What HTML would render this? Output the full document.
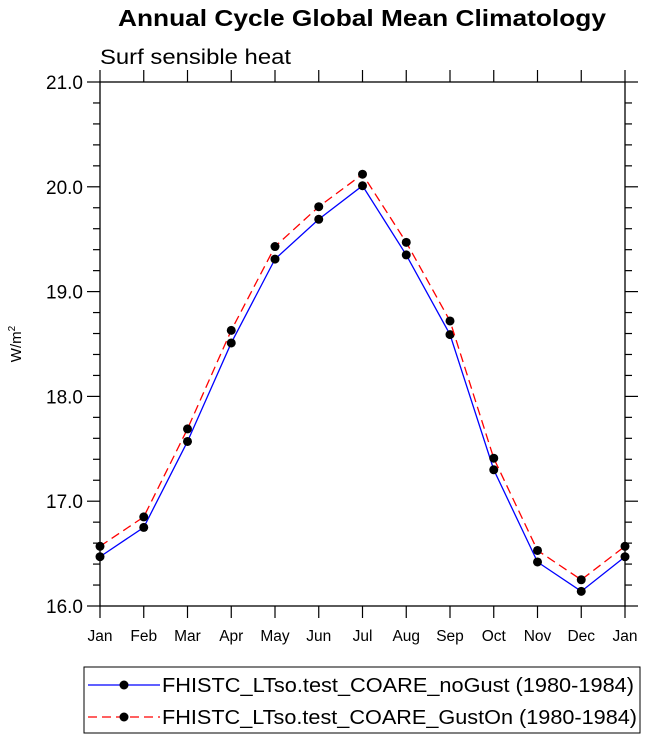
<!DOCTYPE html>
<html><head><meta charset="utf-8"><style>
body{margin:0;background:#fff;font-family:"Liberation Sans",sans-serif}
</style></head><body>
<svg id="c" width="647" height="743" xmlns="http://www.w3.org/2000/svg" font-family="Liberation Sans, sans-serif">
<text x="118" y="26" textLength="488" lengthAdjust="spacingAndGlyphs" font-size="23" font-weight="bold">Annual Cycle Global Mean Climatology</text>
<text x="100" y="64" textLength="191" lengthAdjust="spacingAndGlyphs" font-size="21">Surf sensible heat</text>
<text transform="translate(21,344) rotate(-90)" text-anchor="middle" font-size="15">W/m<tspan dy="-6" font-size="10">2</tspan></text>
<g id="axes"></g><g id="series"></g>
<g>
<rect x="84" y="667" width="556" height="66" fill="#fff" stroke="#000"/>
<g>
<line x1="88" y1="685" x2="160" y2="685" stroke="#0000ff" stroke-width="1.3"/>
<circle cx="124" cy="685" r="4.5" fill="#000"/>
<text x="162" y="692" textLength="472" lengthAdjust="spacingAndGlyphs" font-size="20">FHISTC_LTso.test_COARE_noGust (1980-1984)</text></g>
<g>
<line x1="88" y1="717" x2="160" y2="717" stroke="#ff0000" stroke-width="1.3" stroke-dasharray="9,5"/>
<circle cx="124" cy="717" r="4.5" fill="#000"/>
<text x="162" y="724" textLength="475" lengthAdjust="spacingAndGlyphs" font-size="20">FHISTC_LTso.test_COARE_GustOn (1980-1984)</text></g>
</g>
</svg>
<script>
const months=["Jan","Feb","Mar","Apr","May","Jun","Jul","Aug","Sep","Oct","Nov","Dec","Jan"];
const noGust=[16.47,16.75,17.57,18.51,19.31,19.69,20.01,19.35,18.59,17.30,16.42,16.14,16.47];
const gustOn=[16.57,16.85,17.69,18.63,19.43,19.81,20.12,19.47,18.72,17.41,16.53,16.25,16.57];
const yTicks=[16.0,17.0,18.0,19.0,20.0,21.0];
const NS="http://www.w3.org/2000/svg";
const L=100,R=625,T=82,B=606,ymin=16,ymax=21;
const xs=i=>L+i*(R-L)/12, ys=v=>B-(v-ymin)/(ymax-ymin)*(B-T);
function mk(t,a,p){const e=document.createElementNS(NS,t);for(const k in a)e.setAttribute(k,a[k]);p.appendChild(e);return e;}
const ax=document.getElementById('axes');
const box=mk('rect',{x:L,y:T,width:R-L,height:B-T,fill:'none',stroke:'#000','stroke-width':1.3},ax);


months.forEach((m,i)=>{const x=xs(i);
mk('line',{x1:x,y1:B,x2:x,y2:B+12,stroke:'#000','stroke-width':1.2},ax);
mk('line',{x1:x,y1:T,x2:x,y2:T-12,stroke:'#000','stroke-width':1.2},ax);
const t=mk('text',{x:x,y:B+35,'text-anchor':'middle','font-size':15.5},ax);t.textContent=m;

});
for(let v=ymin;v<=ymax+1e-9;v+=0.2){const y=ys(v);const maj=Math.abs(v-Math.round(v))<1e-6;const len=maj?13:7;
mk('line',{x1:L-len,y1:y,x2:L,y2:y,stroke:'#000','stroke-width':1.2},ax);
mk('line',{x1:R,y1:y,x2:R+len,y2:y,stroke:'#000','stroke-width':1.2},ax);}
yTicks.forEach(v=>{const t=mk('text',{x:L-17,y:ys(v)+7,'text-anchor':'end','font-size':19},ax);t.textContent=v.toFixed(1);

});
const sg=document.getElementById('series');
function series(d,col,dash,name){
const g=mk('g',{},sg);


mk('polyline',{points:d.map((v,i)=>xs(i)+','+ys(v)).join(' '),fill:'none',stroke:col,'stroke-width':1.3,'stroke-dasharray':dash},g);
d.forEach((v,i)=>{const c=mk('circle',{cx:xs(i),cy:ys(v),r:4.5,fill:'#000'},g);

});}
series(noGust,'#0000ff','none','series-nogust');
series(gustOn,'#ff0000','9,5','series-guston');
</script>
</body></html>
